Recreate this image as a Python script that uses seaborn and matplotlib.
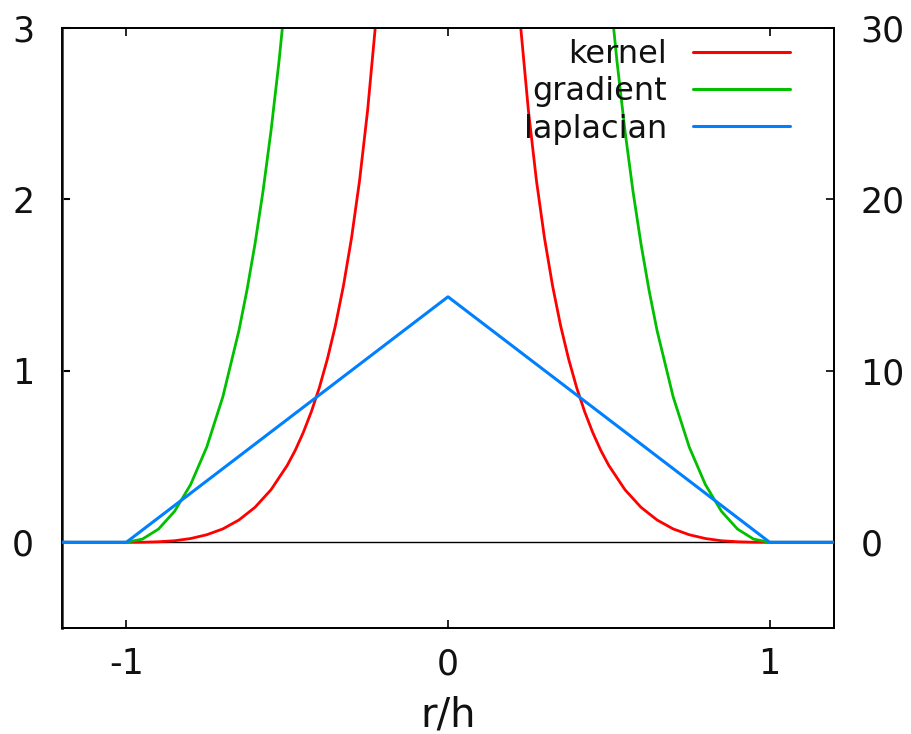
import matplotlib
matplotlib.use("Agg")
import matplotlib.pyplot as plt
import seaborn as sns
from matplotlib.lines import Line2D

# ---- data ----
kernel_x = [-1.2, -1.0, -0.95, -0.9, -0.85, -0.8, -0.75, -0.7, -0.65, -0.6, -0.55, -0.5,
            -0.475, -0.45, -0.425, -0.4, -0.375, -0.35, -0.325, -0.3, -0.275, -0.25,
            -0.225, -0.2, -0.15,
            0.15, 0.2, 0.225, 0.25, 0.275, 0.3, 0.325, 0.35, 0.375, 0.4, 0.425, 0.45,
            0.475, 0.5, 0.55, 0.6, 0.65, 0.7, 0.75, 0.8, 0.85, 0.9, 0.95, 1.0, 1.2]
kernel_y = [0.0, 0.0, 0.0003, 0.003, 0.009, 0.022, 0.044, 0.078, 0.130, 0.204, 0.307, 0.448,
            0.536, 0.640, 0.761, 0.902, 1.069, 1.264, 1.497, 1.774, 2.109, 2.518,
            3.025, 3.667, 5.620,
            5.620, 3.667, 3.025, 2.518, 2.109, 1.774, 1.497, 1.264, 1.069, 0.902, 0.761, 0.640,
            0.536, 0.448, 0.307, 0.204, 0.130, 0.078, 0.044, 0.022, 0.009, 0.003, 0.0003, 0.0, 0.0]

gradient_x = [-1.2, -1.0, -0.95, -0.9, -0.85, -0.8, -0.75, -0.7, -0.65, -0.625, -0.6, -0.575,
              -0.55, -0.525, -0.5, -0.475, -0.45, -0.4,
              0.4, 0.45, 0.475, 0.5, 0.525, 0.55, 0.575, 0.6, 0.625, 0.65, 0.7, 0.75,
              0.8, 0.85, 0.9, 0.95, 1.0, 1.2]
gradient_y = [0.0, 0.0, 0.0185, 0.0771, 0.1809, 0.3372, 0.5554, 0.8485, 1.2347, 1.4704, 1.7401, 2.0488,
              2.4032, 2.811, 3.2825, 3.830, 4.471, 6.123,
              6.123, 4.471, 3.830, 3.2825, 2.811, 2.4032, 2.0488, 1.7401, 1.4704, 1.2347, 0.8485, 0.5554,
              0.3372, 0.1809, 0.0771, 0.0185, 0.0, 0.0]

laplacian_x = [-1.2, -1.0, 0.0, 1.0, 1.2]
laplacian_y = [0.0, 0.0, 14.32, 0.0, 0.0]

series_labels = ["kernel", "gradient", "laplacian"]
left_ticks = [0, 1, 2, 3]
right_ticks = [0, 10, 20, 30]
x_ticks = [-1, 0, 1]
x_tick_labels = ["-1", "0", "1"]

RED = "#ff0000"
GREEN = "#00c000"
BLUE = "#0080ff"
TXT = "#111111"

sns.set_style("white")
plt.rcParams["font.family"] = ["DejaVu Sans"]

fig = plt.figure(figsize=(9.11, 7.34), dpi=100)
ax = fig.add_axes([62 / 911, 1 - 628 / 734, 772 / 911, 600 / 734])
ax2 = ax.twinx()

ax.axhline(0, color="black", linewidth=1.0, zorder=1)
sns.lineplot(x=kernel_x, y=kernel_y, ax=ax, color=RED, linewidth=2.0, sort=False, zorder=2)
sns.lineplot(x=gradient_x, y=gradient_y, ax=ax, color=GREEN, linewidth=2.0, sort=False, zorder=2)
sns.lineplot(x=laplacian_x, y=laplacian_y, ax=ax2, color=BLUE, linewidth=2.2, sort=False, zorder=3)

ax.set_xlim(-1.2, 1.2)
ax.set_ylim(-0.5, 3)
ax2.set_ylim(-5, 30)
ax.set_xticks(x_ticks)
ax.set_xticklabels(x_tick_labels)
ax.set_yticks(left_ticks)
ax2.set_yticks(right_ticks)

ax.tick_params(axis="x", direction="in", top=True, bottom=True, length=5.5, width=1.2,
               labelsize=25, pad=14, colors="black")
ax.tick_params(axis="y", direction="in", left=True, right=False, length=5.5, width=1.5,
               labelsize=25, pad=20, colors="black")
ax2.tick_params(axis="y", direction="in", right=True, left=False, length=5.5, width=1.2,
                labelsize=25, pad=19, colors="black")
for lab in ax.get_xticklabels() + ax.get_yticklabels() + ax2.get_yticklabels():
    lab.set_color(TXT)

for a in (ax, ax2):
    for s in a.spines.values():
        s.set_color("black")
        s.set_linewidth(1.3)
ax.spines["left"].set_color("#444444")
ax.spines["left"].set_linewidth(2.0)

ax.set_xlabel("r/h", fontsize=29, labelpad=10, color=TXT)
ax.set_ylabel("")
ax2.set_ylabel("")

for a in (ax, ax2):
    lg = a.get_legend()
    if lg is not None:
        lg.remove()

handles = [Line2D([], [], color=RED, linewidth=2.2),
           Line2D([], [], color=GREEN, linewidth=2.2),
           Line2D([], [], color=BLUE, linewidth=2.2)]
leg = ax2.legend(handles, series_labels, loc="upper right",
                 bbox_to_anchor=(0.943, 0.982), frameon=False, markerfirst=False,
                 fontsize=23, handlelength=3.05, handletextpad=0.8, labelspacing=0.2,
                 borderpad=0, borderaxespad=0)
for t in leg.get_texts():
    t.set_color(TXT)

fig.savefig("out.png", dpi=100)
